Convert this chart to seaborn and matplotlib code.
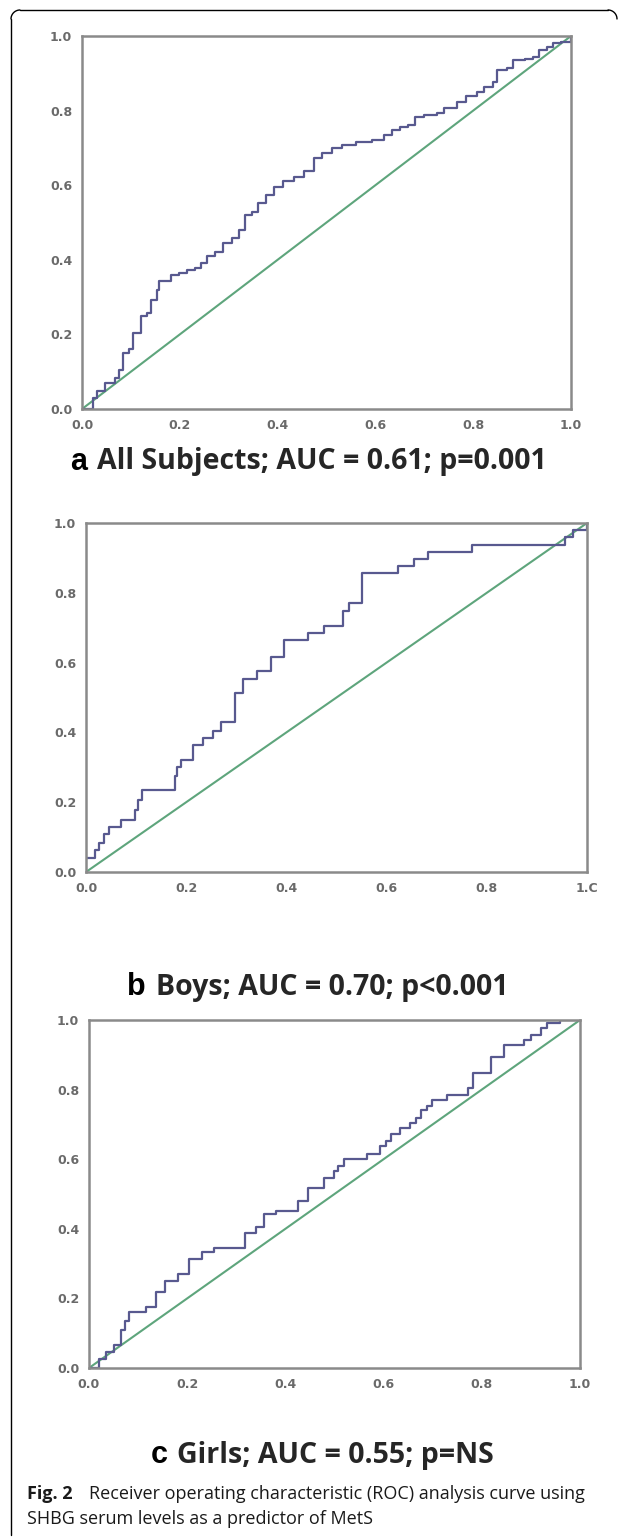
import numpy as np
import matplotlib
matplotlib.use("Agg")
import matplotlib.pyplot as plt
import seaborn as sns

# ROC curves (false positive rate, sensitivity)
all_fpr = [0.0, 0.022, 0.03, 0.047, 0.067, 0.076, 0.084, 0.096, 0.104, 0.121, 0.133, 0.141,
           0.154, 0.158, 0.17, 0.182, 0.199, 0.215, 0.232, 0.244, 0.256, 0.273, 0.289, 0.306,
           0.322, 0.334, 0.347, 0.359, 0.376, 0.392, 0.412, 0.433, 0.454, 0.474, 0.491, 0.511,
           0.532, 0.56, 0.593, 0.618, 0.634, 0.651, 0.667, 0.68, 0.7, 0.725, 0.741, 0.766,
           0.786, 0.807, 0.823, 0.84, 0.848, 0.869, 0.881, 0.905, 0.922, 0.934, 0.951, 0.963,
           0.979, 1.0]
all_tpr = [0.0, 0.029, 0.047, 0.07, 0.083, 0.105, 0.15, 0.16, 0.204, 0.248, 0.257, 0.293,
           0.32, 0.342, 0.342, 0.36, 0.364, 0.373, 0.378, 0.391, 0.409, 0.422, 0.445, 0.458,
           0.48, 0.52, 0.529, 0.552, 0.574, 0.596, 0.61, 0.623, 0.637, 0.672, 0.686, 0.699,
           0.708, 0.717, 0.721, 0.735, 0.748, 0.757, 0.762, 0.784, 0.788, 0.793, 0.806, 0.824,
           0.838, 0.851, 0.864, 0.878, 0.909, 0.913, 0.935, 0.937, 0.944, 0.962, 0.971, 0.98,
           0.985, 1.0]

boys_fpr = [0.0, 0.018, 0.026, 0.035, 0.046, 0.07, 0.098, 0.104, 0.112, 0.178, 0.182, 0.19,
            0.214, 0.234, 0.254, 0.27, 0.298, 0.313, 0.342, 0.37, 0.395, 0.443, 0.475, 0.513,
            0.524, 0.551, 0.623, 0.655, 0.683, 0.771, 0.956, 0.972, 1.0]
boys_tpr = [0.039, 0.064, 0.084, 0.108, 0.128, 0.148, 0.177, 0.207, 0.236, 0.276, 0.3, 0.32,
            0.364, 0.384, 0.404, 0.429, 0.512, 0.554, 0.576, 0.616, 0.665, 0.685, 0.704, 0.749,
            0.77, 0.857, 0.877, 0.897, 0.918, 0.938, 0.961, 0.98, 1.0]

girls_fpr = [0.0, 0.02, 0.035, 0.051, 0.065, 0.073, 0.081, 0.116, 0.137, 0.154, 0.181, 0.203,
             0.23, 0.254, 0.317, 0.34, 0.356, 0.38, 0.425, 0.446, 0.478, 0.498, 0.507, 0.519,
             0.567, 0.592, 0.604, 0.616, 0.633, 0.653, 0.665, 0.677, 0.689, 0.698, 0.73, 0.771,
             0.783, 0.818, 0.846, 0.885, 0.901, 0.921, 0.933, 0.959, 1.0]
girls_tpr = [0.0, 0.027, 0.046, 0.065, 0.108, 0.136, 0.16, 0.175, 0.218, 0.251, 0.27, 0.313,
             0.332, 0.346, 0.389, 0.404, 0.442, 0.451, 0.48, 0.518, 0.547, 0.566, 0.58, 0.6,
             0.614, 0.637, 0.652, 0.671, 0.69, 0.704, 0.718, 0.742, 0.752, 0.771, 0.785, 0.804,
             0.847, 0.895, 0.928, 0.943, 0.957, 0.976, 0.99, 1.0, 1.0]

diag = [0.0, 1.0]
ticks = [0.0, 0.2, 0.4, 0.6, 0.8, 1.0]
tick_labels = ["0.0", "0.2", "0.4", "0.6", "0.8", "1.0"]
boys_xlabels = ["0.0", "0.2", "0.4", "0.6", "0.8", "1.C"]

letters = ["a", "b", "c"]
titles = ["All Subjects; AUC = 0.61; p=0.001",
          "Boys; AUC = 0.70; p<0.001",
          "Girls; AUC = 0.55; p=NS"]

sns.set_style("white")

W, H = 627, 1538
fig = plt.figure(figsize=(W / 100, H / 100), dpi=100)

curve_col = "#58598f"
diag_col = "#5ea57c"
spine_col = "#8a8a8a"


def px_axes(x0, x1, y0, y1):
    # pixel box -> figure fractions
    return fig.add_axes([x0 / W, 1 - y1 / H, (x1 - x0) / W, (y1 - y0) / H])


boxes = [(82, 571, 36, 409), (86, 587, 523, 872), (89, 580, 1020, 1368)]
curves = [(all_fpr, all_tpr), (boys_fpr, boys_tpr), (girls_fpr, girls_tpr)]
xlabs = [tick_labels, boys_xlabels, tick_labels]

for box, (fx, ty), xl in zip(boxes, curves, xlabs):
    ax = px_axes(*box)
    sns.lineplot(x=diag, y=diag, ax=ax, color=diag_col, lw=1.5, estimator=None, sort=False)
    sns.lineplot(x=fx, y=ty, ax=ax, color=curve_col, lw=1.6, estimator=None, sort=False,
                 drawstyle="steps-post")
    ax.set_xlim(0, 1)
    ax.set_ylim(0, 1)
    ax.set_xticks(ticks)
    ax.set_yticks(ticks)
    ax.set_xticklabels(xl)
    ax.set_yticklabels(tick_labels)
    for s in ax.spines.values():
        s.set_color(spine_col)
        s.set_linewidth(1.8)
        s.set_visible(True)
    ax.tick_params(axis="both", direction="out", length=6.5, width=1.5, color=spine_col,
                   labelsize=9, labelcolor="#6a6a6a", pad=0.5)
    ax.tick_params(axis="x", pad=0.5)
    for lab in ax.get_xticklabels() + ax.get_yticklabels():
        lab.set_fontweight("bold")
    ax.set_xlabel("")
    ax.set_ylabel("")

# panel titles
title_pos = [(70, 97, 462), (127, 156, 987), (151, 177, 1455)]
for (lx, tx, ty), letter, t in zip(title_pos, letters, titles):
    fig.text(lx / W, 1 - ty / H, letter, fontsize=22, fontweight="bold",
             family="Liberation Sans", color="black", va="center", ha="left")
    fig.text(tx / W, 1 - ty / H, t, fontsize=20.5, fontweight="bold",
             family="Open Sans", color="#262626", va="center", ha="left")

# caption
fig.text(27 / W, 1 - 1494 / H, "Fig. 2", fontsize=13, fontweight="bold",
         family="Open Sans", color="#1a1a1a", va="center", ha="left")
fig.text(89 / W, 1 - 1494 / H, "Receiver operating characteristic (ROC) analysis curve using",
         fontsize=13, family="Open Sans", color="#1a1a1a", va="center", ha="left")
fig.text(27 / W, 1 - 1519 / H, "SHBG serum levels as a predictor of MetS",
         fontsize=13, family="Open Sans", color="#1a1a1a", va="center", ha="left")

# outer frame (top + left edges, rounded corners)
fr = fig.add_axes([0, 0, 1, 1], zorder=-1)
fr.set_xlim(0, W)
fr.set_ylim(H, 0)
fr.axis("off")
r = 9
t = np.linspace(0, np.pi / 2, 20)
fr.plot([11 + r, 617 - r], [10, 10], color="black", lw=1)
fr.plot([11, 11], [10 + r, 1535], color="black", lw=1)
fr.plot(11 + r - r * np.cos(t), 10 + r - r * np.sin(t), color="black", lw=1)
fr.plot(617 - r + r * np.cos(t), 10 + r - r * np.sin(t), color="black", lw=1)

fig.savefig("out.png", dpi=100)
